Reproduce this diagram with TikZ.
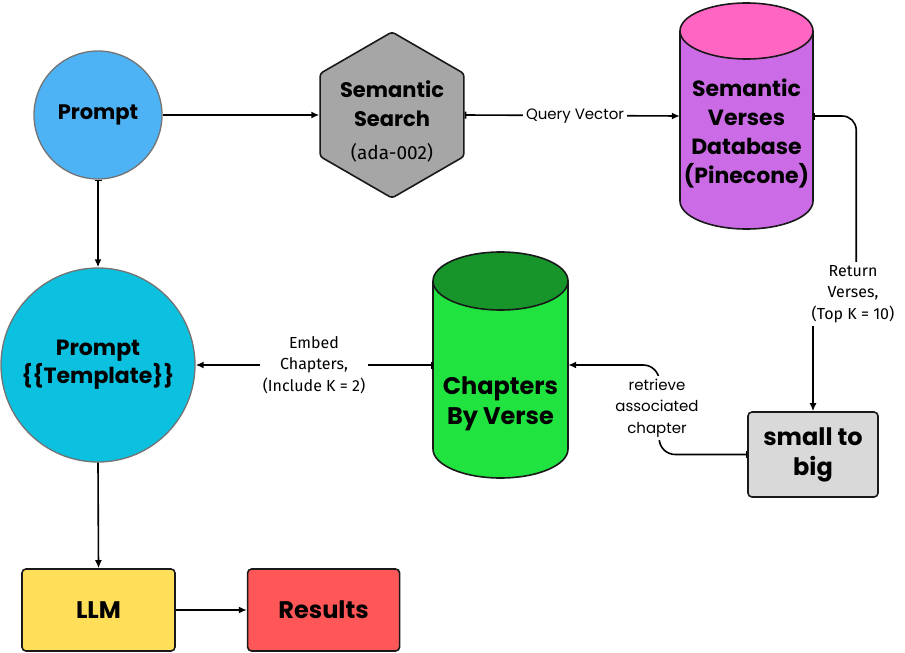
\documentclass[tikz,border=0pt]{standalone}
\usepackage{fontspec}
\setmainfont{Poppins}
\newfontfamily\plexfont{Fira Sans}
\usetikzlibrary{positioning,arrows.meta,shapes.geometric,calc}

\definecolor{promptblue}{HTML}{4DB3F5}
\definecolor{tmplcyan}{HTML}{0CC0DF}
\definecolor{searchgray}{HTML}{A6A6A6}
\definecolor{dbpink}{HTML}{FF66C4}
\definecolor{dbpurple}{HTML}{CB6CE6}
\definecolor{cvdark}{HTML}{17952A}
\definecolor{cvgreen}{HTML}{20E33F}
\definecolor{stbgray}{HTML}{D9D9D9}
\definecolor{llmyellow}{HTML}{FFDE59}
\definecolor{resred}{HTML}{FF5757}

\begin{document}
\begin{tikzpicture}[
  x=1pt, y=1pt,
  >={Latex[length=8pt,width=7pt]},
  round/.style={circle, draw=black!55, line width=1.3pt, inner sep=0pt, align=center},
  box/.style={rectangle, draw=black!90, line width=1.6pt, rounded corners=4pt, inner sep=0pt, align=center},
  hexa/.style={regular polygon, regular polygon sides=6, shape border rotate=30, draw=black!90,
               line width=1.6pt, rounded corners=3pt, inner sep=0pt, minimum size=166pt, align=center},
  cylbody/.style={draw=black!90, line width=1.6pt},
  flow/.style={->, draw=black, line width=1.6pt},                % plain connector
  tflow/.style={{Bar[width=7pt]}->, draw=black, line width=1.6pt}, % connector with bar tail
  lbl/.style={fill=white, align=center, inner sep=3pt},
  ttl/.style={font=\fontsize{21}{29}\selectfont\bfseries},
  bigttl/.style={font=\fontsize{24}{30}\selectfont\bfseries},
]
\useasboundingbox (0,0) rectangle (905,-653);

% ============================== top row ==============================
\node[round, ttl, fill=promptblue, minimum size=128pt] (prompt) at (98,-115) {Prompt};
\node[hexa, fill=searchgray] (search) at (392,-115) {};
\node[ttl, align=center] (searchtext) at (392,-121)
   {Semantic\\Search\\[4pt]{\plexfont\mdseries\fontsize{19}{20}\selectfont (ada-002)}};

% ============================== databases (cylinders) ==============================
\foreach \nm/\cx/\yt/\yb/\a/\r/\ec/\bc in {pinecone/746.5/-31/-201/66.5/28/dbpink/dbpurple,
                                            chapters/500.5/-281/-449/67.5/29/cvdark/cvgreen}{
  \filldraw[cylbody, fill=\bc] (\cx-\a,\yt) -- (\cx-\a,\yb)
     arc[start angle=180, end angle=360, x radius=\a, y radius=\r] -- (\cx+\a,\yt);
  \filldraw[cylbody, fill=\ec] (\cx,\yt) ellipse[x radius=\a, y radius=\r];
  \node[inner sep=0pt, minimum width={2*\a*1pt}, minimum height={(\yt-\yb+2*\r)*1pt}]
     (\nm) at (\cx,{(\yt+\yb)/2}) {};
}
\node[font=\fontsize{22}{29}\selectfont\bfseries, align=center] (pineconetext) at (746.5,-133)
   {Semantic\\Verses\\Database\\(Pinecone)};
\node[bigttl, align=center] (chapterstext) at (500.5,-404) {Chapters\\By Verse};

% ============================== middle / bottom ==============================
\node[round, font=\fontsize{22}{28}\selectfont\bfseries, fill=tmplcyan, minimum size=194pt]
   (template) at (98,-365) {Prompt\\\{\{Template\}\}};
\node[box, bigttl, fill=stbgray, minimum width=130pt, minimum height=85pt] (stb) at (813,-454.5)
   {small to\\big};
\node[box, bigttl, fill=llmyellow, minimum width=153pt, minimum height=82pt] (llm) at (98.5,-610) {LLM};
\node[box, bigttl, fill=resred, minimum width=152pt, minimum height=82pt, right=71pt of llm] (results) {Results};

% ============================== connectors ==============================
\draw[flow] (prompt.east) -- (search.west);
\draw[tflow] (search.east) -- (pinecone.west);
\draw[tflow, rounded corners=14pt] (pinecone.east) -- ++(43,0) -- ++(0,-185) -- ($(stb.north)+(0,110)$) -- (stb.north);
\draw[tflow, rounded corners=16pt] (stb.west) -- ++(-88,0) |- (chapters.east);
\draw[tflow] (chapters.west) -- (template.east);
\draw[tflow] (prompt.south) -- (template.north);
\draw[flow] (template.south) -- (llm.north);
\draw[flow] (llm.east) -- (results.west);

% ============================== connector labels ==============================
\node[lbl, font=\fontsize{15}{18}\selectfont] (qv) at (575,-116) {Query Vector};
\node[lbl, font=\plexfont\fontsize{16}{21.7}\selectfont] (ret) at (853,-294) {Return\\Verses,\\(Top K = 10)};
\node[lbl, font=\plexfont\fontsize{16}{21.7}\selectfont] (emb) at (314,-365) {Embed\\Chapters,\\(Include K = 2)};
\node[lbl, font=\fontsize{15}{21.7}\selectfont] (rac) at (657,-408) {retrieve\\associated\\chapter};
\end{tikzpicture}
\end{document}
